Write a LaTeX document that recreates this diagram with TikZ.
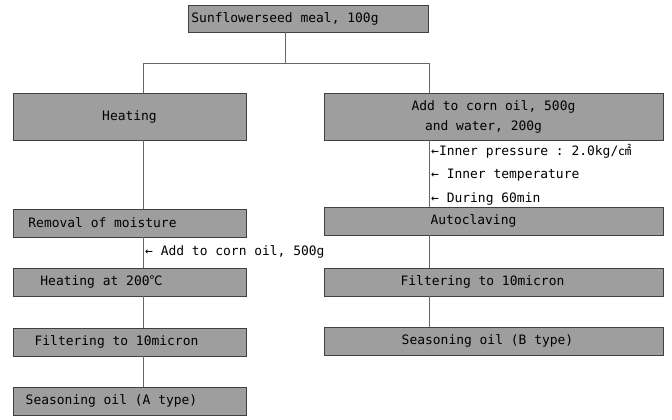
\documentclass[tikz,border=0pt]{standalone}
\usepackage{fontspec}
\setmonofont{DejaVu Sans Mono}
\newfontfamily\cjk{Noto Sans CJK KR}
\usetikzlibrary{positioning}
\tikzset{
  stage/.style={draw=black!75, fill=black!38, line width=.6pt, inner sep=0pt,
    minimum height=28bp},
  lstage/.style={stage, minimum width=233bp},
  rstage/.style={stage, minimum width=339bp},
  flow/.style={draw=black!60, line width=.5pt},
  note/.style={anchor=west, inner sep=0pt}
}
\begin{document}
\begin{tikzpicture}[x=1bp, y=-1bp, font=\ttfamily\fontsize{13}{20}\selectfont]
  \useasboundingbox (0,0) rectangle (672,419);
  % branch points
  \coordinate (split) at (285,63);
  \coordinate (lx) at (143,63);
  \coordinate (rx) at (429,63);
  % boxes
  \node[stage, minimum width=240bp, minimum height=27bp] (meal) at (308,18.5)
    {Sunflowerseed meal, 100g\hspace*{46bp}};
  \node[lstage, minimum height=47bp] (heat) at (129.5,116.5) {Heating};
  \node[rstage, minimum height=47bp, align=center] (mix) at (493.5,116.5)
    {Add to corn oil, 500g\\and water, 200g\hspace*{20bp}};
  \node[lstage] (dry) at (129.5,223) {Removal of moisture\hspace*{54bp}};
  \node[rstage] (auto) at (493.5,221) {Autoclaving\hspace*{40bp}};
  \node[lstage] (hot) at (129.5,282) {Heating at 200{\cjk ℃}\hspace*{56bp}};
  \node[rstage] (filtB) at (493.5,282) {Filtering to 10micron\hspace*{22bp}};
  \node[lstage] (filtA) at (129.5,342) {Filtering to 10micron\hspace*{26bp}};
  \node[rstage] (oilB) at (493.5,341) {Seasoning oil (B type)\hspace*{12bp}};
  \node[lstage] (oilA) at (129.5,401) {Seasoning oil (A type)\hspace*{36bp}};
  % connectors
  \draw[flow] (meal.south -| split) -- (split);
  \draw[flow] (lx) -- (rx);
  \draw[flow] (lx) -- (heat.north -| lx);
  \draw[flow] (rx) -- (mix.north -| rx);
  \foreach \a/\b in {heat/dry, dry/hot, hot/filtA, filtA/oilA}
    \draw[flow] (\a.south -| lx) -- (\b.north -| lx);
  \foreach \a/\b in {mix/auto, auto/filtB, filtB/oilB}
    \draw[flow] (\a.south -| rx) -- (\b.north -| rx);
  % side notes
  \node[note] (corn) at (145,252) {← Add to corn oil, 500g};
  \node[note] (press) at (431,151) {←Inner pressure : 2.0kg/{\cjk ㎠}};
  \node[note] (temp) at (431,175) {← Inner temperature};
  \node[note] (time) at (431,199) {← During 60min};
\end{tikzpicture}
\end{document}
